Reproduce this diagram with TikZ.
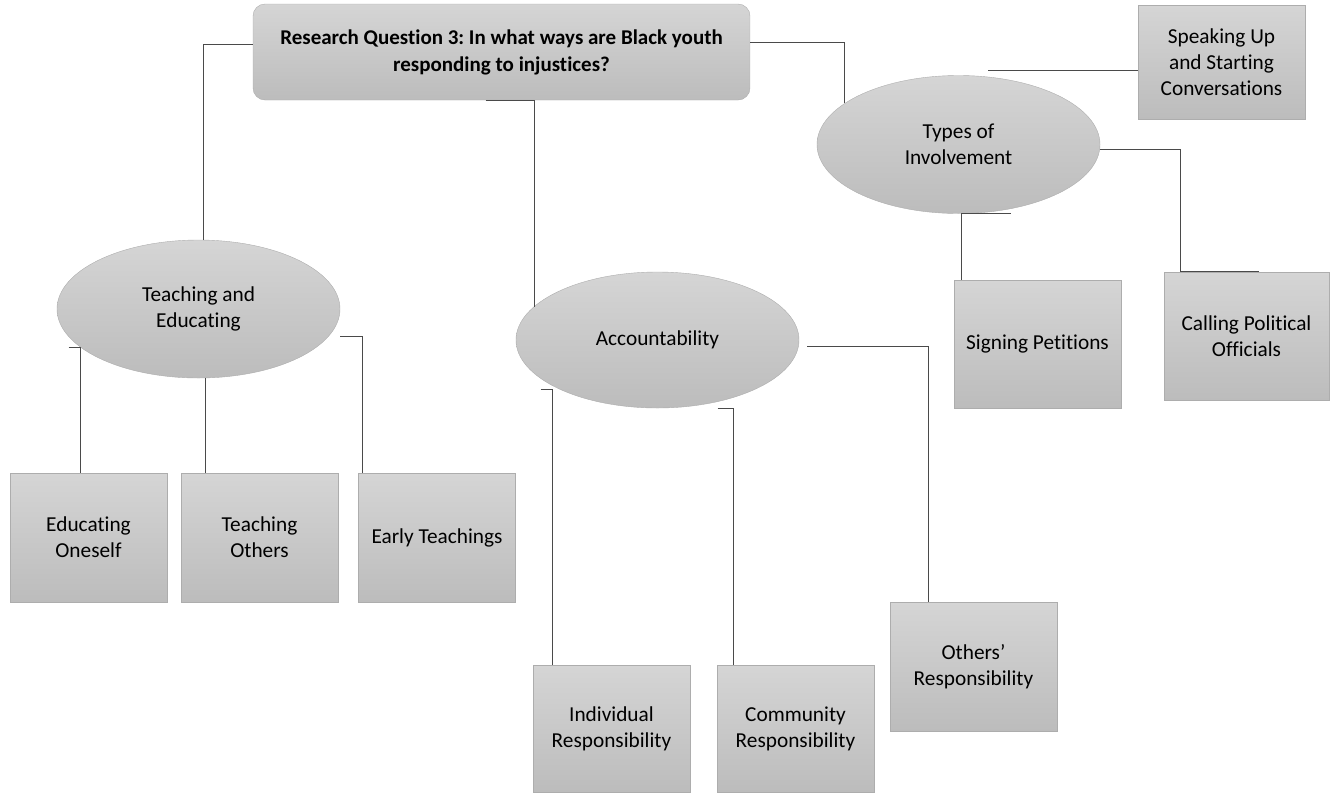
\documentclass[tikz,border=0pt]{standalone}
\usepackage{fontspec}
\setmainfont{Carlito}[Ligatures=NoCommon]
\usetikzlibrary{shapes.geometric,calc}
\definecolor{shadetop}{HTML}{D5D5D5}
\definecolor{shadebot}{HTML}{BCBCBC}
\definecolor{rim}{HTML}{ADADAD}
\definecolor{wire}{HTML}{4A4A4A}
\frenchspacing

\begin{document}
\begin{tikzpicture}[x=1pt,y=-1pt,
 box/.style={draw=rim,top color=shadetop,bottom color=shadebot,inner sep=0pt,
 align=center,font=\fontsize{21.3}{26}\selectfont},
 oval/.style={box,ellipse,minimum width=283pt,minimum height=138pt},
 head/.style={box,rounded corners=12pt,minimum width=497pt,minimum height=96pt,
 font=\bfseries\fontsize{21}{27}\selectfont},
 link/.style={draw=wire,line width=0.9pt}]
\useasboundingbox (0,0) rectangle (1330,793);
% question and themes
\node[head] (title) at (501.5,52) {Research Question 3: In what ways are Black youth\\responding to injustices?};
\node[oval] (teach) at (198.5,309) {Teaching and\\Educating};
\node[oval,minimum height=136pt] (acc) at (657.5,340) {Accountability};
\node[oval] (types) at (958.5,144.5) {Types of\\Involvement};
% teaching and educating
\node[box,minimum width=157pt,minimum height=129pt] (edu) at (88.5,537.5) {Educating\\Oneself};
\node[box,minimum width=157pt,minimum height=129pt] (others) at (259.5,537.5) {Teaching\\Others};
\node[box,minimum width=157pt,minimum height=129pt] (early) at (437,537.5) {Early Teachings};
% accountability
\node[box,minimum width=157pt,minimum height=127pt] (indiv) at (611.5,728.5) {Individual\\Responsibility};
\node[box,minimum width=157pt,minimum height=127pt] (comm) at (795.5,728.5) {Community\\Responsibility};
\node[box,minimum width=167pt,minimum height=129pt] (othresp) at (973.5,666.5) {Others'\\Responsibility};
% types of involvement
\node[box,minimum width=167pt,minimum height=114pt] (speak) at (1221.5,62) {Speaking Up\\and Starting\\Conversations};
\node[box,minimum width=167pt,minimum height=128pt] (sign) at (1037.5,344) {Signing Petitions};
\node[box,minimum width=165pt,minimum height=128pt] (call) at (1246.5,336) {Calling Political\\Officials};
\coordinate (spkend) at (988,70);
% connectors
\draw[link] ([yshift=8pt]title.west) -| ([xshift=5pt]teach.north);
\draw[link] ([xshift=-16pt]title.south) -- ([xshift=33pt]title.south) -- ([xshift=33pt]title.south |- acc.165);
\draw[link] ([yshift=10pt]title.east) -| (types.160);
\draw[link] ([yshift=-8pt]speak.west) -- (spkend);
\draw[link] ([yshift=-5pt]types.east) -| ([xshift=-66pt]call.north) -- ([xshift=12pt]call.north);
\draw[link] ([xshift=52pt]types.south) -- ([xshift=3pt]types.south) -- ([xshift=3pt]types.south |- sign.north);
\draw[link] ([xshift=-12pt]teach.198) -- (teach.198) -- (teach.198 |- edu.north);
\draw[link] ([xshift=7pt]teach.south) -- ([xshift=7pt]teach.south |- others.north);
\draw[link] ([yshift=-27pt]teach.east) -| ([xshift=-75pt]early.north);
\draw[link] ([shift={(-117,49)}]acc.center) -- ([shift={(-105,49)}]acc.center) |- ([xshift=-59pt]indiv.north);
\draw[link] ([xshift=60pt]acc.south) -- ([xshift=76pt]acc.south) -- ([xshift=76pt]acc.south |- comm.north);
\draw[link] ([shift={(8,6)}]acc.east) -| ([xshift=-45pt]othresp.north);
\end{tikzpicture}
\end{document}
